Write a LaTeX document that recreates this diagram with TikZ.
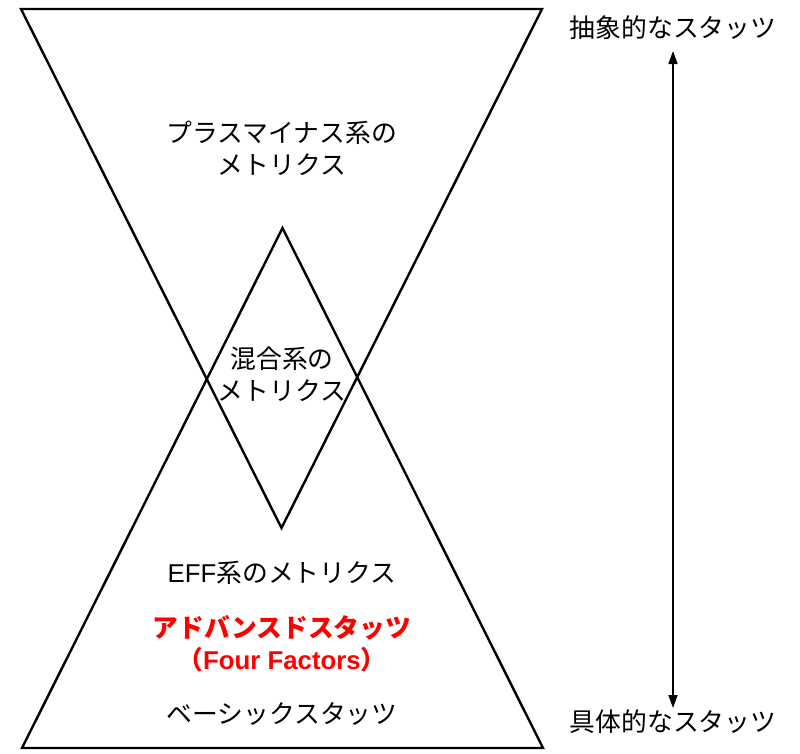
\documentclass[tikz,border=0pt]{standalone}
\usepackage{fontspec}
\setmainfont{Noto Sans CJK JP}
\newfontfamily\latinsans{Liberation Sans}
\usetikzlibrary{arrows.meta}
\begin{document}
\begin{tikzpicture}[x=1pt,y=-1pt,
  tri/.style={draw=black,line width=2.4pt,line join=miter},
  lbl/.style={font=\fontsize{25.8}{32}\selectfont,align=center,inner sep=0pt},
  redlbl/.style={font=\fontsize{25.8}{32}\selectfont\bfseries,text=red,align=center,inner sep=0pt},
  axis/.style={line width=1.6pt,{Triangle[length=13pt,width=9pt]}-{Triangle[length=13pt,width=9pt]}}]
\useasboundingbox (0,0) rectangle (800,753);
% inverted top triangle
\draw[tri] (21,9) coordinate (tl) -- (542,9) coordinate (tr) -- (281.5,528) coordinate (tapex) -- cycle;
% bottom triangle
\draw[tri] (22,748) coordinate (bl) -- (543,748) coordinate (br) -- (282.5,228) coordinate (bapex) -- cycle;
% labels
\node[lbl] (pm) at (282,148) {プラスマイナス系の\\メトリクス};
\node[lbl] (mix) at (282,374) {混合系の\\メトリクス};
\node[lbl] (eff) at (282,573) {{\latinsans EFF}系のメトリクス};
\node[redlbl] (adv) at (282,644) {アドバンスドスタッツ\\（{\latinsans\bfseries Four Factors}）};
\node[lbl] (basic) at (282,714) {ベーシックスタッツ};
\node[lbl] (abs) at (673,28) {抽象的なスタッツ};
\node[lbl] (conc) at (673,722) {具体的なスタッツ};
\coordinate (atop) at (673,51);
\coordinate (abot) at (673,708);
\draw[axis] (atop) -- (abot);
\end{tikzpicture}
\end{document}
